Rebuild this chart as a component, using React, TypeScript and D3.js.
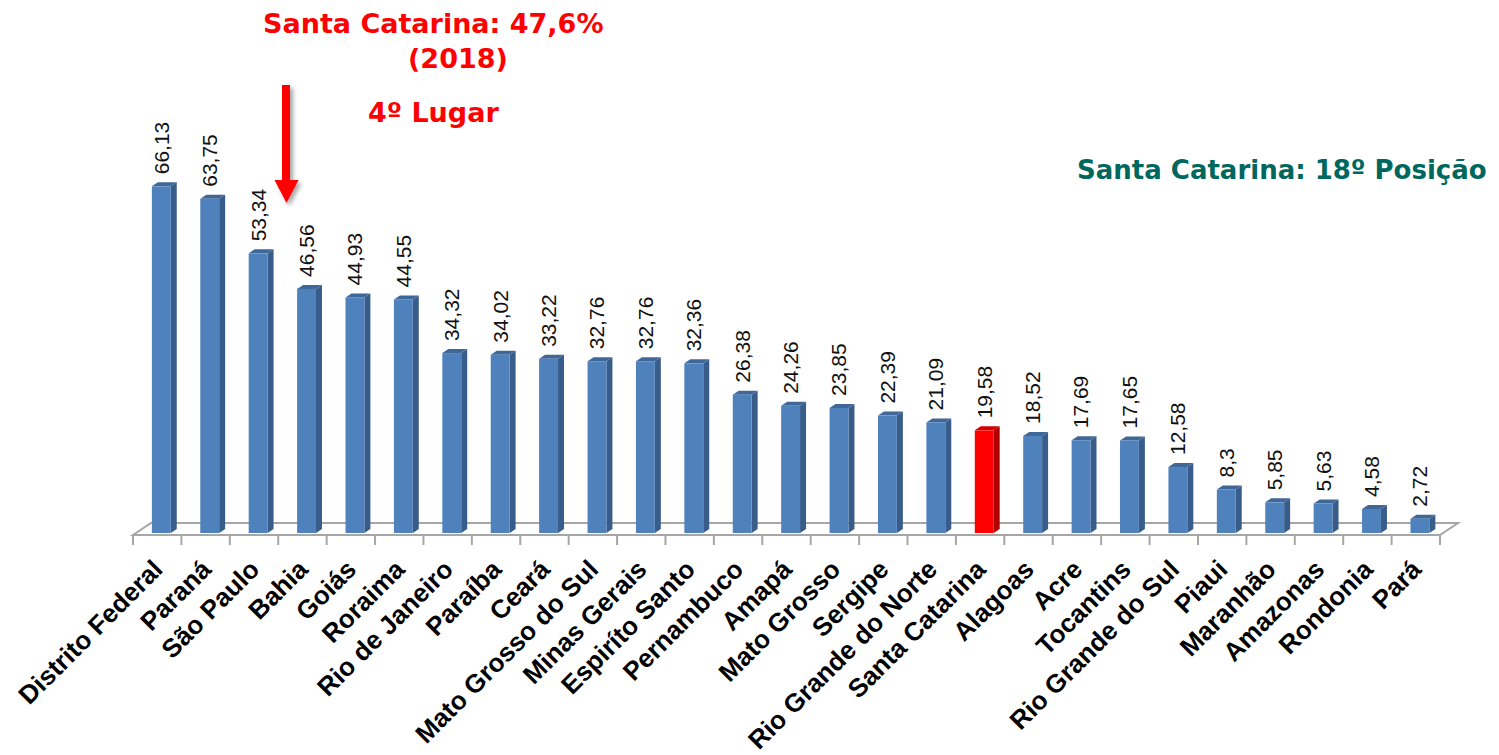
import { scaleBand, scaleLinear } from "d3";
import type { ReactElement } from "react";

const states = [
  "Distrito Federal", "Paraná", "São Paulo", "Bahia", "Goiás", "Roraima",
  "Rio de Janeiro", "Paraíba", "Ceará", "Mato Grosso do Sul", "Minas Gerais",
  "Espiríto Santo", "Pernambuco", "Amapá", "Mato Grosso", "Sergipe",
  "Rio Grande do Norte", "Santa Catarina", "Alagoas", "Acre", "Tocantins",
  "Rio Grande do Sul", "Piaui", "Maranhão", "Amazonas", "Rondonia", "Pará",
];

const values = [
  66.13, 63.75, 53.34, 46.56, 44.93, 44.55, 34.32, 34.02, 33.22, 32.76, 32.76,
  32.36, 26.38, 24.26, 23.85, 22.39, 21.09, 19.58, 18.52, 17.69, 17.65, 12.58,
  8.3, 5.85, 5.63, 4.58, 2.72,
];

const highlighted = "Santa Catarina";

const WIDTH = 1499;
const HEIGHT = 755;
const BASE_Y = 533;
const FRONT_Y = 535;
const DEPTH_X = 18;
const DEPTH_Y = 12;
const BAR_DX = 6;
const BAR_DY = 4;

const formatValue = (v: number): string => String(v).replace(".", ",");

export default function App(): ReactElement {
  const x = scaleBand<string>().domain(states).range([133, 1440]).padding(0);
  const y = scaleLinear().domain([0, 70]).range([BASE_Y, 166]);
  const bw = x.bandwidth();
  const barW = bw * 0.39;
  const floorL = x.range()[0];
  const floorR = x.range()[1];

  return (
    <div style={{ position: "absolute", left: 0, top: 0 }}>
      <svg width={WIDTH} height={HEIGHT} style={{ display: "block", background: "#fff" }}>
        <defs>
          <filter id="arrow-shadow" x="-50%" y="-20%" width="200%" height="140%">
            <feDropShadow dx="3" dy="3" stdDeviation="2" floodColor="#000" floodOpacity="0.35" />
          </filter>
        </defs>

        {/* floor */}
        <polygon
          points={`${floorL},${FRONT_Y} ${floorR},${FRONT_Y} ${floorR + DEPTH_X},${FRONT_Y - DEPTH_Y} ${floorL + DEPTH_X},${FRONT_Y - DEPTH_Y}`}
          fill="#fff"
          stroke="#a6a6a6"
          strokeWidth={2}
        />
        {states.map((s, i) => (
          <line
            key={`t-${s}`}
            x1={(x(s) ?? 0)}
            x2={(x(s) ?? 0)}
            y1={FRONT_Y}
            y2={FRONT_Y + 10}
            stroke="#a6a6a6"
            strokeWidth={2}
          />
        ))}
        <line x1={floorR} x2={floorR} y1={FRONT_Y} y2={FRONT_Y + 10} stroke="#a6a6a6" strokeWidth={2} />

        {/* bars */}
        {states.map((s, i) => {
          const v = values[i];
          const bx = (x(s) ?? 0) + bw * 0.39;
          const top = y(v);
          const red = s === highlighted;
          const front = red ? "#ff0000" : "#4f81bd";
          const side = red ? "#b00000" : "#385d8a";
          const cap = red ? "#d40000" : "#3f6797";
          return (
            <g key={s}>
              <polygon
                points={`${bx + barW},${top} ${bx + barW + BAR_DX},${top - BAR_DY} ${bx + barW + BAR_DX},${BASE_Y - BAR_DY} ${bx + barW},${BASE_Y}`}
                fill={side}
              />
              <polygon
                points={`${bx},${top} ${bx + BAR_DX},${top - BAR_DY} ${bx + barW + BAR_DX},${top - BAR_DY} ${bx + barW},${top}`}
                fill={cap}
              />
              <rect x={bx} y={top} width={barW} height={BASE_Y - top} fill={front} />
              <text
                transform={`translate(${bx + barW - 2},${top - 12}) rotate(-90)`}
                fontFamily="'Liberation Sans', Arial, sans-serif"
                fontSize={21}
                fill="#111"
              >
                {formatValue(v)}
              </text>
            </g>
          );
        })}

        {/* category labels */}
        {states.map((s) => (
          <text
            key={`l-${s}`}
            transform={`translate(${(x(s) ?? 0) + bw / 2 + 7},${571}) rotate(-45)`}
            textAnchor="end"
            fontFamily="'Liberation Sans', Arial, sans-serif"
            fontWeight="bold"
            fontSize={26}
            fill="#000"
          >
            {s}
          </text>
        ))}

        {/* annotations */}
        <g fontFamily="'DejaVu Sans', Verdana, sans-serif" fontWeight="bold" fill="#ff0000" fontSize={27}>
          <text x={263} y={33}>Santa Catarina: 47,6%</text>
          <text x={408} y={68}>(2018)</text>
          <text x={368} y={122}>4º Lugar</text>
        </g>
        <text
          x={1077}
          y={179}
          fontFamily="'DejaVu Sans', Verdana, sans-serif"
          fontWeight="bold"
          fontSize={26}
          fill="#00675e"
        >
          Santa Catarina: 18º Posição
        </text>

        <g filter="url(#arrow-shadow)" fill="#ff0000">
          <rect x={282} y={85} width={8} height={97} />
          <polygon points="274.5,180 298.5,180 286.5,203" />
        </g>
      </svg>
    </div>
  );
}
